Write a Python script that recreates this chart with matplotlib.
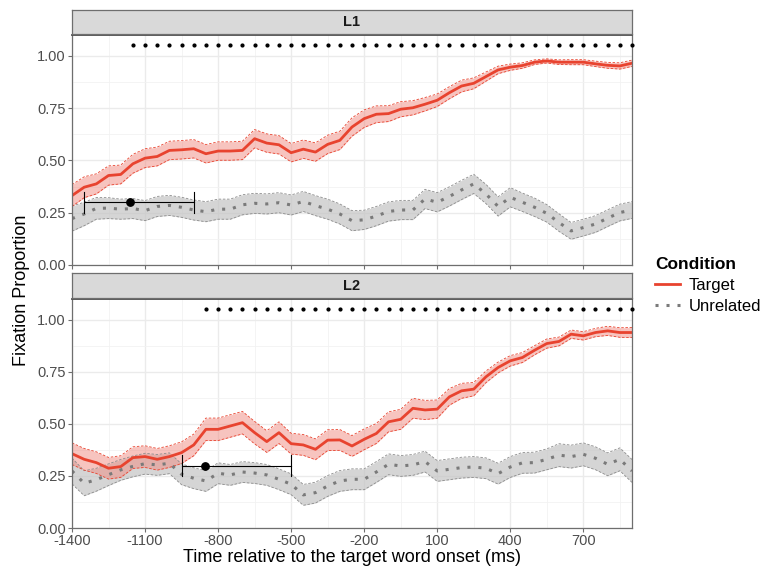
import numpy as np
import matplotlib
matplotlib.use("Agg")
import matplotlib.pyplot as plt
from matplotlib.lines import Line2D

plt.rcParams["font.family"] = ["Liberation Sans", "DejaVu Sans"]

# time bins (ms), 50 ms steps from -1400 to 900
time = np.arange(-1400, 901, 50)

# L1 fixation proportions
l1_target = [0.332, 0.372, 0.388, 0.428, 0.433, 0.484, 0.511, 0.519, 0.548, 0.551,
             0.556, 0.532, 0.545, 0.545, 0.548, 0.604, 0.583, 0.575, 0.537, 0.554,
             0.540, 0.577, 0.596, 0.660, 0.700, 0.721, 0.724, 0.745, 0.752, 0.769,
             0.788, 0.824, 0.856, 0.869, 0.901, 0.933, 0.946, 0.954, 0.970, 0.976,
             0.970, 0.970, 0.970, 0.962, 0.955, 0.952, 0.965]
l1_target_se = [0.052, 0.050, 0.048, 0.046, 0.045, 0.045, 0.045, 0.045, 0.044, 0.044,
                0.044, 0.044, 0.044, 0.044, 0.044, 0.044, 0.044, 0.044, 0.044, 0.044,
                0.044, 0.044, 0.044, 0.044, 0.042, 0.040, 0.038, 0.036, 0.034, 0.032,
                0.030, 0.029, 0.028, 0.026, 0.022, 0.018, 0.015, 0.013, 0.011, 0.010,
                0.011, 0.012, 0.012, 0.013, 0.014, 0.015, 0.015]
l1_unrel = [0.222, 0.244, 0.271, 0.272, 0.267, 0.270, 0.260, 0.280, 0.285, 0.276,
            0.263, 0.255, 0.267, 0.267, 0.288, 0.295, 0.292, 0.298, 0.287, 0.304,
            0.284, 0.267, 0.244, 0.212, 0.216, 0.234, 0.256, 0.263, 0.263, 0.316,
            0.300, 0.328, 0.359, 0.388, 0.340, 0.280, 0.324, 0.300, 0.276, 0.247,
            0.203, 0.163, 0.179, 0.196, 0.224, 0.251, 0.263]
l1_unrel_se = [0.060, 0.056, 0.052, 0.050, 0.048, 0.048, 0.048, 0.048, 0.048, 0.048,
               0.048, 0.048, 0.048, 0.048, 0.048, 0.048, 0.048, 0.048, 0.048, 0.048,
               0.048, 0.048, 0.048, 0.048, 0.046, 0.046, 0.046, 0.046, 0.046, 0.046,
               0.046, 0.046, 0.046, 0.046, 0.046, 0.046, 0.046, 0.044, 0.044, 0.042,
               0.042, 0.040, 0.040, 0.040, 0.040, 0.040, 0.040]

# L2 fixation proportions
l2_target = [0.357, 0.330, 0.314, 0.287, 0.295, 0.338, 0.343, 0.330, 0.343, 0.362,
             0.399, 0.474, 0.474, 0.490, 0.506, 0.458, 0.415, 0.458, 0.405, 0.399,
             0.378, 0.422, 0.423, 0.394, 0.426, 0.454, 0.510, 0.522, 0.575, 0.567,
             0.571, 0.630, 0.659, 0.667, 0.726, 0.771, 0.803, 0.819, 0.854, 0.886,
             0.896, 0.931, 0.923, 0.939, 0.947, 0.939, 0.939]
l2_target_se = [0.052, 0.052, 0.052, 0.052, 0.052, 0.052, 0.052, 0.052, 0.052, 0.052,
                0.052, 0.054, 0.054, 0.054, 0.054, 0.054, 0.052, 0.052, 0.050, 0.050,
                0.050, 0.050, 0.050, 0.050, 0.050, 0.048, 0.048, 0.048, 0.048, 0.046,
                0.044, 0.040, 0.036, 0.032, 0.028, 0.026, 0.025, 0.024, 0.022, 0.022,
                0.021, 0.020, 0.020, 0.020, 0.022, 0.023, 0.024]
l2_unrel = [0.274, 0.215, 0.232, 0.256, 0.279, 0.296, 0.309, 0.303, 0.311, 0.258,
            0.239, 0.226, 0.263, 0.255, 0.269, 0.264, 0.255, 0.234, 0.210, 0.159,
            0.170, 0.202, 0.226, 0.234, 0.234, 0.269, 0.306, 0.298, 0.303, 0.319,
            0.274, 0.282, 0.290, 0.293, 0.287, 0.261, 0.293, 0.313, 0.314, 0.330,
            0.350, 0.343, 0.354, 0.335, 0.306, 0.330, 0.274]
l2_unrel_se = [0.062, 0.060, 0.055, 0.052, 0.050, 0.050, 0.050, 0.050, 0.050, 0.050,
               0.050, 0.050, 0.050, 0.050, 0.050, 0.050, 0.050, 0.050, 0.050, 0.050,
               0.050, 0.050, 0.050, 0.050, 0.050, 0.050, 0.050, 0.050, 0.050, 0.050,
               0.050, 0.050, 0.050, 0.050, 0.050, 0.050, 0.050, 0.050, 0.050, 0.050,
               0.055, 0.055, 0.055, 0.055, 0.055, 0.055, 0.055]

# significant bins start, divergence point estimate and interval
sig_start = {"L1": -1150, "L2": -850}
div_point = {"L1": -1160, "L2": -855}
div_ci = {"L1": (-1350, -900), "L2": (-950, -500)}
div_y = 0.30
sig_y = 1.05

red = "#E8432F"
grey = "#7A7A7A"
frame = "#6E6E6E"
dots = (0, (1, 2.6))

fig = plt.figure(figsize=(7.61, 5.72), dpi=100)
W, H = 761, 572


def box(x0, y0, x1, y1):
    return [x0 / W, 1 - y1 / H, (x1 - x0) / W, (y1 - y0) / H]


panels = [
    ("L1", l1_target, l1_target_se, l1_unrel, l1_unrel_se, (10, 34), (35, 265)),
    ("L2", l2_target, l2_target_se, l2_unrel, l2_unrel_se, (273, 298), (299, 528)),
]

for i, (name, tgt, tgt_se, unr, unr_se, strip_y, pan_y) in enumerate(panels):
    ax = fig.add_axes(box(72, pan_y[0], 632, pan_y[1]))
    tgt = np.array(tgt); tgt_se = np.array(tgt_se)
    unr = np.array(unr); unr_se = np.array(unr_se)

    # grid
    ax.set_xlim(-1400, 900)
    ax.set_ylim(0, 1.1)
    ax.set_xticks([-1400, -1100, -800, -500, -200, 100, 400, 700])
    ax.set_xticks([-1250, -950, -650, -350, -50, 250, 550, 850], minor=True)
    ax.set_yticks([0, 0.25, 0.5, 0.75, 1.0])
    ax.set_yticks([0.125, 0.375, 0.625, 0.875], minor=True)
    ax.grid(which="major", color="#EBEBEB", lw=1.0)
    ax.grid(which="minor", color="#F2F2F2", lw=0.6)
    ax.set_axisbelow(True)
    ax.tick_params(which="minor", length=0)
    ax.tick_params(which="major", length=3, color=frame, width=0.8,
                   labelsize=10.5, labelcolor="#4D4D4D", pad=1.5)
    ax.set_yticklabels(["0.00", "0.25", "0.50", "0.75", "1.00"])
    for s in ax.spines.values():
        s.set_color(frame)
        s.set_linewidth(0.9)
    ax.spines["top"].set_color("#4D4D4D")
    ax.spines["top"].set_linewidth(1.3)

    # ribbons
    ax.fill_between(time, unr - unr_se, unr + unr_se, color="#C4C4C4", alpha=0.7, lw=0)
    ax.plot(time, unr - unr_se, color="#8C8C8C", lw=0.6, ls=(0, (3, 2)))
    ax.plot(time, unr + unr_se, color="#8C8C8C", lw=0.6, ls=(0, (3, 2)))
    ax.fill_between(time, tgt - tgt_se, tgt + tgt_se, color="#F08A80", alpha=0.5, lw=0)
    ax.plot(time, tgt - tgt_se, color=red, lw=0.6, ls=(0, (3, 2)))
    ax.plot(time, tgt + tgt_se, color=red, lw=0.6, ls=(0, (3, 2)))

    # lines
    ax.plot(time, unr, color=grey, lw=2.2, ls=dots, dash_capstyle="butt")
    ax.plot(time, tgt, color=red, lw=2.0)

    # significant bins
    sig_t = time[time >= sig_start[name]]
    ax.scatter(sig_t, np.full(len(sig_t), sig_y), s=4, color="black", zorder=5, clip_on=False)

    # divergence point with interval
    lo, hi = div_ci[name]
    ax.plot([lo, hi], [div_y, div_y], color="black", lw=0.8, zorder=6)
    ax.plot([lo, lo], [div_y - 0.05, div_y + 0.05], color="black", lw=0.8, zorder=6)
    ax.plot([hi, hi], [div_y - 0.05, div_y + 0.05], color="black", lw=0.8, zorder=6)
    ax.scatter([div_point[name]], [div_y], s=28, color="black", zorder=7)

    if i == 0:
        ax.tick_params(axis="x", which="major", labelbottom=False)
    else:
        ax.set_xticklabels(["-1400", "-1100", "-800", "-500", "-200", "100", "400", "700"])

    # facet strip
    sax = fig.add_axes(box(72, strip_y[0], 632, strip_y[1]))
    sax.set_facecolor("#D9D9D9")
    sax.set_xticks([])
    sax.set_yticks([])
    for s in sax.spines.values():
        s.set_color(frame)
        s.set_linewidth(0.9)
    sax.text(0.5, 0.5, name, ha="center", va="center", fontsize=10.5,
             fontweight="bold", color="#1A1A1A", transform=sax.transAxes)

fig.text(22 / W, 1 - 290 / H, "Fixation Proportion", rotation=90, ha="center",
         va="center", fontsize=13)
fig.text(352 / W, 1 - 557 / H, "Time relative to the target word onset (ms)",
         ha="center", va="center", fontsize=13)

handles = [Line2D([0], [0], color=red, lw=2.0),
           Line2D([0], [0], color=grey, lw=2.2, ls=dots, dash_capstyle="butt")]
leg = fig.legend(handles, ["Target", "Unrelated"], title="Condition",
                 loc="upper left", bbox_to_anchor=(640 / W, 1 - 242 / H),
                 frameon=False, fontsize=12, handlelength=1.5,
                 handletextpad=0.5, labelspacing=0.35,
                 title_fontproperties={"weight": "bold", "size": 12.5},
                 alignment="left")

fig.savefig("out.png", dpi=100)
